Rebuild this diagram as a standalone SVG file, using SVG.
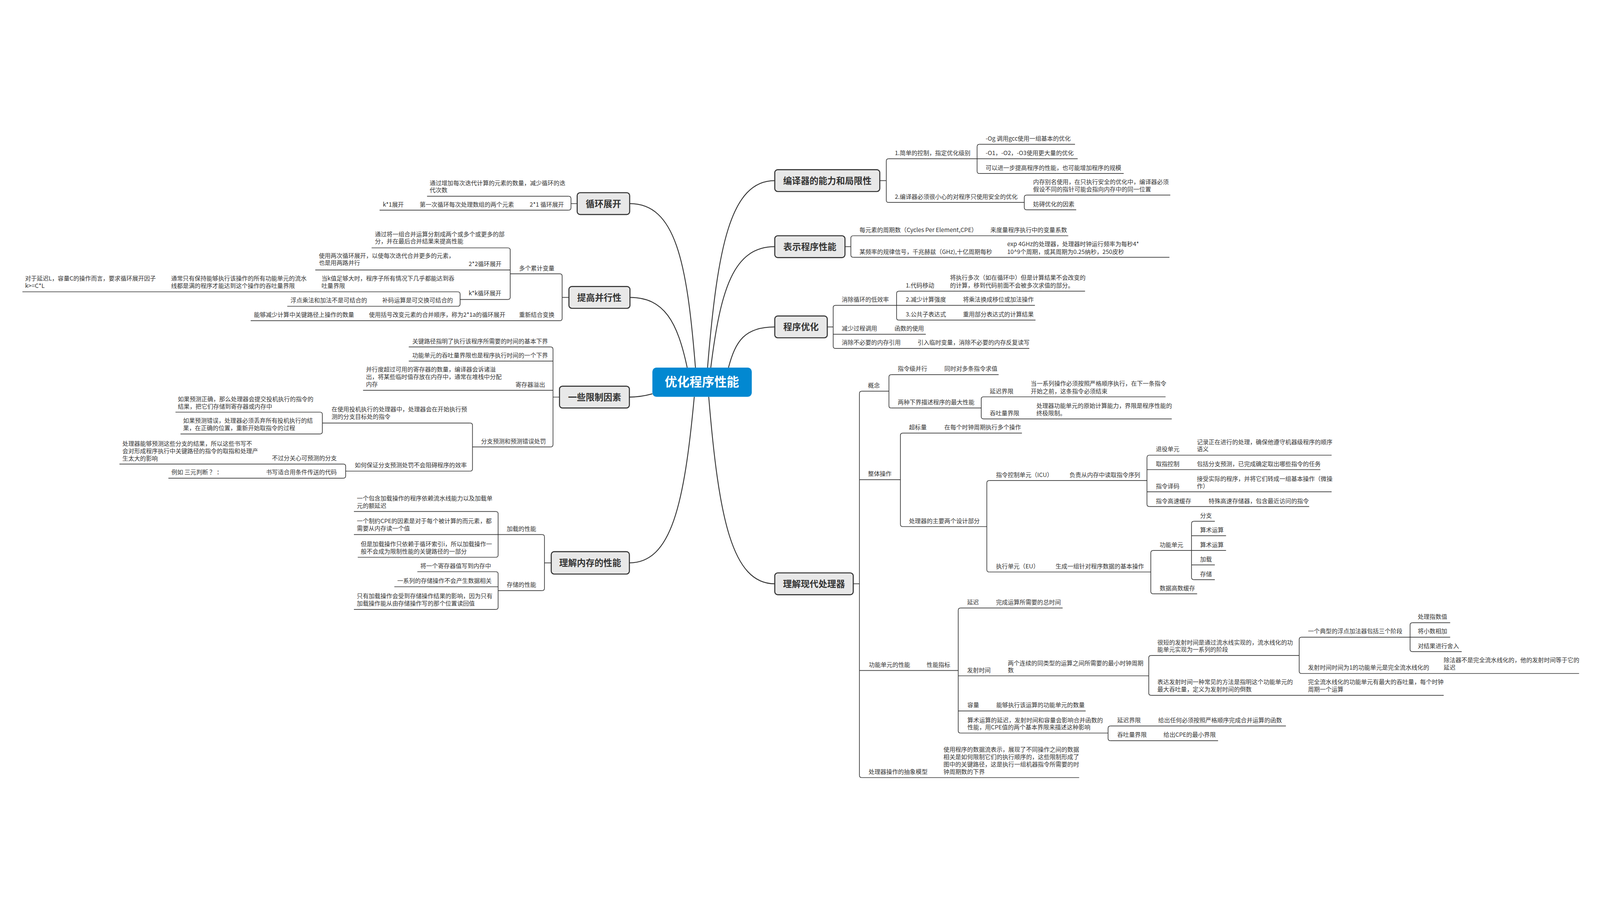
<svg xmlns="http://www.w3.org/2000/svg" width="5425" height="2332" viewBox="0 0 5425 2332">
<style>
svg{width:100vw;height:100vh}
text{font-family:"Noto Sans CJK SC","Noto Sans",sans-serif;fill:#333}
.t{font-size:20px}
.mt{font-size:30px;font-weight:bold;text-anchor:middle}
.ct{font-size:42px;font-weight:bold;text-anchor:middle;fill:#fff}
.box{fill:#e8e8e8;stroke:#333;stroke-width:3.5}
.ln{stroke:#333;stroke-width:2.2;fill:none}
.cc{stroke:#333;stroke-width:3;fill:none}
</style>
<rect width="5425" height="2332" fill="#fff"/>
<g id="connectors">
<path class="cc" d="M2399 868C2433 456 2477 234 2627 234"/>
<path class="cc" d="M2410 868C2443 602 2487 458 2627 458"/>
<path class="cc" d="M2470 868C2494 778 2525 730 2627 730"/>
<path class="cc" d="M2403 967C2437 1379 2482 1601 2627 1601"/>
<path class="cc" d="M2354 967C2320 1333 2276 1530 2134 1530"/>
<path class="cc" d="M2212 957C2190 963 2160 968 2134 968"/>
<path class="cc" d="M2330 868C2297 713 2252 630 2136 630"/>
<path class="cc" d="M2358 868C2329 507 2290 312 2135 312"/>
<path class="ln" d="M2983 234H3005M3013 160Q3005 160 3005 168V300Q3005 308 3013 308"/>
<path class="ln" d="M3321 111Q3313 111 3313 119V202Q3313 210 3321 210"/>
<path class="ln" d="M3481 283Q3473 283 3473 291V325Q3473 333 3481 333"/>
<path class="ln" d="M2865 458H2885M2893 421Q2885 421 2885 429V486Q2885 494 2893 494"/>
<path class="ln" d="M2805 730H2825M2833 657Q2825 657 2825 665V795Q2825 803 2833 803"/>
<path class="ln" d="M3048 609Q3040 609 3040 617V699Q3040 707 3048 707"/>
<path class="ln" d="M2893 1601H2914M2922 948Q2914 948 2914 956V2250Q2914 2258 2922 2258"/>
<path class="ln" d="M3022 892Q3014 892 3014 900V997Q3014 1005 3022 1005"/>
<path class="ln" d="M3335 967Q3327 967 3327 975V1034Q3327 1042 3335 1042"/>
<path class="ln" d="M3061 1090Q3053 1090 3053 1098V1399Q3053 1407 3061 1407"/>
<path class="ln" d="M3354 1251Q3346 1251 3346 1259V1553Q3346 1561 3354 1561"/>
<path class="ln" d="M3897 1165Q3889 1165 3889 1173V1331Q3889 1339 3897 1339"/>
<path class="ln" d="M3910 1488Q3902 1488 3902 1496V1627Q3902 1635 3910 1635"/>
<path class="ln" d="M4048 1389Q4040 1389 4040 1397V1579Q4040 1587 4048 1587"/>
<path class="ln" d="M3257 1683Q3249 1683 3249 1691V2099Q3249 2107 3257 2107"/>
<path class="ln" d="M3903 1844Q3895 1844 3895 1852V1971Q3895 1979 3903 1979"/>
<path class="ln" d="M4413 1782Q4405 1782 4405 1790V1897Q4405 1905 4413 1905"/>
<path class="ln" d="M4789 1733Q4781 1733 4781 1741V1823Q4781 1831 4789 1831"/>
<path class="ln" d="M3765 2083Q3757 2083 3757 2091V2125Q3757 2133 3765 2133"/>
<path class="ln" d="M1957 312H1936M1928 287Q1936 287 1936 295V326Q1936 334 1928 334"/>
<path class="ln" d="M1929 630H1906M1898 550Q1906 550 1906 558V701Q1906 709 1898 709"/>
<path class="ln" d="M1722 462Q1730 462 1730 470V629Q1730 637 1722 637"/>
<path class="ln" d="M1552 611Q1560 611 1560 619V652Q1560 660 1552 660"/>
<path class="ln" d="M1897 968H1875M1867 798Q1875 798 1875 806V1129Q1875 1137 1867 1137"/>
<path class="ln" d="M1594 1056Q1602 1056 1602 1064V1211Q1602 1219 1594 1219"/>
<path class="ln" d="M1085 1019Q1093 1019 1093 1027V1085Q1093 1093 1085 1093"/>
<path class="ln" d="M1164 1195Q1172 1195 1172 1203V1235Q1172 1243 1164 1243"/>
<path class="ln" d="M1869 1530H1846M1838 1434Q1846 1434 1846 1442V1616Q1846 1624 1838 1624"/>
<path class="ln" d="M1681 1356Q1689 1356 1689 1364V1503Q1689 1511 1681 1511"/>
<path class="ln" d="M1681 1560Q1689 1560 1689 1568V1680Q1689 1688 1681 1688"/>
</g>
<g id="root">
<rect x="2212" y="868" width="337" height="99" rx="14" fill="#0288d1"/>
<text class="ct" x="2380" y="932">优化程序性能</text>
</g>
<g id="compiler">
<rect class="box" x="2627" y="197" width="356" height="74" rx="10"/>
<text class="mt" x="2805" y="245">编译器的能力和局限性</text>
<path class="ln" d="M3013 160H3313"/><text class="t" x="3034" y="148">1.简单的控制，指定优化级别</text>
<path class="ln" d="M3321 111H3645"/><text class="t" x="3342" y="99">-Og 调用gcc使用一组基本的优化</text>
<path class="ln" d="M3313 160H3654"/><text class="t" x="3342" y="148">-O1，-O2，-O3使用更大量的优化</text>
<path class="ln" d="M3321 210H3810"/><text class="t" x="3342" y="198">可以进一步提高程序的性能，也可能增加程序的规模</text>
<path class="ln" d="M3013 308H3473"/><text class="t" x="3034" y="296">2.编译器必须很小心的对程序只使用安全的优化</text>
<path class="ln" d="M3481 283H3968"/><text class="t" x="3503" y="246">内存别名使用，在只执行安全的优化中，编译器必须</text><text class="t" x="3503" y="271">假设不同的指针可能会指向内存中的同一位置</text>
<path class="ln" d="M3481 333H3649"/><text class="t" x="3503" y="321">妨碍优化的因素</text>
</g>
<g id="perf-repr">
<rect class="box" x="2627" y="421" width="238" height="74" rx="10"/>
<text class="mt" x="2746" y="469">表示程序性能</text>
<path class="ln" d="M2893 421H3622"/><text class="t" x="2914" y="408">每元素的周期数（Cycles Per Element,CPE）</text><text class="t" x="3358" y="408">来度量程序执行中的变量系数</text>
<path class="ln" d="M2893 494H3965"/><text class="t" x="2914" y="482">某频率的规律信号，千兆赫兹（GHz),十亿周期每秒</text>
<text class="t" x="3415" y="456">exp 4GHz的处理器，处理器时钟运行频率为每秒4*</text><text class="t" x="3415" y="482">10^9个周期，或其周期为0.25纳秒，250皮秒</text>
</g>
<g id="prog-opt">
<rect class="box" x="2627" y="693" width="178" height="74" rx="10"/>
<text class="mt" x="2716" y="741">程序优化</text>
<path class="ln" d="M2833 657H3040"/><text class="t" x="2854" y="644">消除循环的低效率</text>
<path class="ln" d="M3048 609H3679"/><text class="t" x="3071" y="596">1.代码移动</text>
<text class="t" x="3221" y="570">将执行多次（如在循环中）但是计算结果不会改变的</text><text class="t" x="3221" y="596">的计算，移到代码前面不会被多次求值的部分。</text>
<path class="ln" d="M3040 657H3509"/><text class="t" x="3071" y="644">2.减少计算强度</text><text class="t" x="3265" y="644">将乘法换成移位或加法操作</text>
<path class="ln" d="M3048 707H3511"/><text class="t" x="3071" y="694">3.公共子表达式</text><text class="t" x="3265" y="694">重用部分表达式的计算结果</text>
<path class="ln" d="M2825 755H3139"/><text class="t" x="2854" y="742">减少过程调用</text><text class="t" x="3033" y="742">函数的使用</text>
<path class="ln" d="M2833 803H3490"/><text class="t" x="2854" y="790">消除不必要的内存引用</text><text class="t" x="3111" y="790">引入临时变量，消除不必要的内存反复读写</text>
</g>
<g id="processor">
<rect class="box" x="2627" y="1564" width="266" height="74" rx="10"/>
<text class="mt" x="2760" y="1612">理解现代处理器</text>
<path class="ln" d="M2922 948H3014"/><text class="t" x="2943" y="936">概念</text>
<path class="ln" d="M3022 892H3386"/><text class="t" x="3044" y="879">指令级并行</text><text class="t" x="3202" y="879">同时对多条指令求值</text>
<path class="ln" d="M3022 1005H3327"/><text class="t" x="3044" y="992">两种下界描述程序的最大性能</text>
<path class="ln" d="M3335 967H3952"/><text class="t" x="3356" y="955">延迟界限</text><text class="t" x="3495" y="929">当一系列操作必须按照严格顺序执行，在下一条指令</text><text class="t" x="3495" y="955">开始之前，这条指令必须结束</text>
<path class="ln" d="M3335 1042H3973"/><text class="t" x="3356" y="1030">吞吐量界限</text><text class="t" x="3514" y="1004">处理器功能单元的原始计算能力，界限是程序性能的</text><text class="t" x="3514" y="1030">终极限制。</text>
<path class="ln" d="M2914 1248H3053"/><text class="t" x="2943" y="1235">整体操作</text>
<path class="ln" d="M3061 1090H3465"/><text class="t" x="3082" y="1077">超标量</text><text class="t" x="3202" y="1077">在每个时钟周期执行多个操作</text>
<path class="ln" d="M3061 1407H3346"/><text class="t" x="3082" y="1395">处理器的主要两个设计部分</text>
<path class="ln" d="M3354 1251H3889"/><text class="t" x="3377" y="1239">指令控制单元（ICU）</text><text class="t" x="3626" y="1239">负责从内存中读取指令序列</text>
<path class="ln" d="M3897 1165H4515"/><text class="t" x="3919" y="1152">退役单元</text><text class="t" x="4058" y="1127">记录正在进行的处理，确保他遵守机器级程序的顺序</text><text class="t" x="4058" y="1152">语义</text>
<path class="ln" d="M3889 1214H4477"/><text class="t" x="3919" y="1202">取指控制</text><text class="t" x="4058" y="1202">包括分支预测，已完成确定取出哪些指令的任务</text>
<path class="ln" d="M3889 1289H4515"/><text class="t" x="3919" y="1277">指令译码</text><text class="t" x="4058" y="1252">接受实际的程序，并将它们转成一组基本操作（微操</text><text class="t" x="4058" y="1277">作）</text>
<path class="ln" d="M3897 1339H4439"/><text class="t" x="3919" y="1327">指令高速缓存</text><text class="t" x="4098" y="1327">特殊高速存储器，包含最近访问的指令</text>
<path class="ln" d="M3354 1561H3902"/><text class="t" x="3377" y="1549">执行单元（EU）</text><text class="t" x="3579" y="1549">生成一组针对程序数据的基本操作</text>
<path class="ln" d="M3910 1488H4040"/><text class="t" x="3932" y="1476">功能单元</text>
<path class="ln" d="M4048 1389H4119"/><text class="t" x="4069" y="1377">分支</text>
<path class="ln" d="M4040 1438H4157"/><text class="t" x="4069" y="1426">算术运算</text>
<path class="ln" d="M4040 1488H4157"/><text class="t" x="4069" y="1476">算术运算</text>
<path class="ln" d="M4040 1537H4119"/><text class="t" x="4069" y="1525">加载</text>
<path class="ln" d="M4048 1587H4119"/><text class="t" x="4069" y="1575">存储</text>
<path class="ln" d="M3910 1635H4059"/><text class="t" x="3932" y="1623">数据高数缓存</text>
<path class="ln" d="M2914 1895H3249"/><text class="t" x="2946" y="1883">功能单元的性能</text><text class="t" x="3142" y="1883">性能指标</text>
<path class="ln" d="M3257 1683H3603"/><text class="t" x="3279" y="1671">延迟</text><text class="t" x="3377" y="1671">完成运算所需要的总时间</text>
<path class="ln" d="M3249 1913H3895"/><text class="t" x="3279" y="1901">发射时间</text><text class="t" x="3417" y="1877">两个连续的同类型的运算之间所需要的最小时钟周期</text><text class="t" x="3417" y="1901">数</text>
<path class="ln" d="M3903 1844H4405"/><text class="t" x="3924" y="1807">很短的发射时间是通过流水线实现的，流水线化的功</text><text class="t" x="3924" y="1831">能单元实现为一系列的阶段</text>
<path class="ln" d="M4413 1782H4917"/><text class="t" x="4435" y="1769">一个典型的浮点加法器包括三个阶段</text>
<path class="ln" d="M4789 1733H4917"/><text class="t" x="4807" y="1720">处理指数值</text>
<text class="t" x="4807" y="1769">将小数相加</text>
<path class="ln" d="M4789 1831H4956"/><text class="t" x="4807" y="1819">对结果进行舍入</text>
<path class="ln" d="M4413 1905H5354"/><text class="t" x="4435" y="1892">发射时间时间为1的功能单元是完全流水线化的</text><text class="t" x="4895" y="1866">除法器不是完全流水线化的，他的发射时间等于它的</text><text class="t" x="4895" y="1892">延迟</text>
<path class="ln" d="M3903 1979H4895"/><text class="t" x="3924" y="1941">表达发射时间一种常见的方法是指明这个功能单元的</text><text class="t" x="3924" y="1966">最大吞吐量，定义为发射时间的倒数</text><text class="t" x="4435" y="1941">完全流水线化的功能单元有最大的吞吐量，每个时钟</text><text class="t" x="4435" y="1966">周期一个运算</text>
<path class="ln" d="M3249 2032H3681"/><text class="t" x="3280" y="2019">容量</text><text class="t" x="3378" y="2019">能够执行该运算的功能单元的数量</text>
<path class="ln" d="M3257 2107H3757"/><text class="t" x="3280" y="2070">算术运算的延迟，发射时间和容量会影响合并函数的</text><text class="t" x="3280" y="2094">性能，用CPE值的两个基本界限来描述这种影响</text>
<path class="ln" d="M3765 2083H4360"/><text class="t" x="3788" y="2071">延迟界限</text><text class="t" x="3927" y="2071">给出任何必须按照严格顺序完成合并运算的函数</text>
<path class="ln" d="M3765 2133H4130"/><text class="t" x="3788" y="2120">吞吐量界限</text><text class="t" x="3945" y="2120">给出CPE的最小界限</text>
<path class="ln" d="M2922 2258H3659"/><text class="t" x="2945" y="2245">处理器操作的抽象模型</text>
<text class="t" x="3199" y="2170">使用程序的数据流表示，展现了不同操作之间的数据</text><text class="t" x="3199" y="2195">相关是如何限制它们的执行顺序的，这些限制形成了</text><text class="t" x="3199" y="2220">图中的关键路径，这是执行一组机器指令所需要的时</text><text class="t" x="3199" y="2245">钟周期数的下界</text>
</g>
<g id="unroll">
<rect class="box" x="1957" y="275" width="178" height="74" rx="10"/>
<text class="mt" x="2046" y="323">循环展开</text>
<path class="ln" d="M1448 287H1928"/><text class="t" x="1457" y="249">通过增加每次迭代计算的元素的数量，减少循环的迭</text><text class="t" x="1457" y="273">代次数</text>
<path class="ln" d="M1287 334H1928"/><text class="t" x="1796" y="322">2*1 循环展开</text><text class="t" x="1423" y="322">第一次循环每次处理数组的两个元素</text><text class="t" x="1298" y="322">k*1展开</text>
</g>
<g id="parallel">
<rect class="box" x="1929" y="593" width="207" height="74" rx="10"/>
<text class="mt" x="2032" y="641">提高并行性</text>
<path class="ln" d="M1730 550H1898"/><text class="t" x="1760" y="538">多个累计变量</text>
<path class="ln" d="M1260 462H1722"/><text class="t" x="1271" y="423">通过将一组合并运算分割成两个或多个或更多的部</text><text class="t" x="1271" y="447">分，并在最后合并结果来提高性能</text>
<path class="ln" d="M1069 537H1730"/><text class="t" x="1589" y="524">2*2循环展开</text><text class="t" x="1081" y="496">使用两次循环展开，以使每次迭代合并更多的元素，</text><text class="t" x="1081" y="520">也是用两路并行</text>
<path class="ln" d="M1560 637H1722"/><text class="t" x="1589" y="623">k*k循环展开</text>
<path class="ln" d="M76 611H1552"/><text class="t" x="1090" y="573">当k值足够大时，程序子所有情况下几乎都能达到吞</text><text class="t" x="1090" y="598">吐量界限</text>
<text class="t" x="580" y="573">通常只有保持能够执行该操作的所有功能单元的流水</text><text class="t" x="580" y="598">线都是满的程序才能达到这个操作的吞吐量界限</text>
<text class="t" x="85" y="573">对于延迟L，容量C的操作而言，要求循环展开因子</text><text class="t" x="85" y="598">k&gt;=C*L</text>
<path class="ln" d="M974 660H1552"/><text class="t" x="1296" y="647">补码运算是可交换可结合的</text><text class="t" x="985" y="647">浮点乘法和加法不是可结合的</text>
<path class="ln" d="M850 709H1898"/><text class="t" x="1760" y="696">重新结合变换</text><text class="t" x="1251" y="696">使用括号改变元素的合并顺序，称为2*1a的循环展开</text><text class="t" x="861" y="696">能够减少计算中关键路径上操作的数量</text>
</g>
<g id="limits">
<rect class="box" x="1897" y="931" width="237" height="74" rx="10"/>
<text class="mt" x="2016" y="979">一些限制因素</text>
<path class="ln" d="M1386 798H1867"/><text class="t" x="1398" y="786">关键路径指明了执行该程序所需要的时间的基本下界</text>
<path class="ln" d="M1386 846H1875"/><text class="t" x="1398" y="834">功能单元的吞吐量界限也是程序执行时间的一个下界</text>
<path class="ln" d="M1231 945H1875"/><text class="t" x="1748" y="933">寄存器溢出</text><text class="t" x="1241" y="881">并行度超过可用的寄存器的数量，编译器会诉诸溢</text><text class="t" x="1241" y="906">出，将某些临时值存放在内存中，通常在堆栈中分配</text><text class="t" x="1241" y="931">内存</text>
<path class="ln" d="M1602 1137H1867"/><text class="t" x="1631" y="1125">分支预测和预测错误处罚</text>
<path class="ln" d="M1093 1056H1594"/><text class="t" x="1124" y="1017">在使用投机执行的处理器中，处理器会在开始执行预</text><text class="t" x="1124" y="1042">测的分支目标处的指令</text>
<path class="ln" d="M595 1019H1085"/><text class="t" x="603" y="982">如果预测正确，那么处理器会提交投机执行的指令的</text><text class="t" x="603" y="1007">结果，把它们存储到寄存器或内存中</text>
<path class="ln" d="M612 1093H1085"/><text class="t" x="621" y="1055">如果预测错误，处理器必须丢弃所有投机执行的结</text><text class="t" x="621" y="1080">果，在正确的位置，重新开始取指令的过程</text>
<path class="ln" d="M1172 1219H1594"/><text class="t" x="1203" y="1206">如何保证分支预测处罚不会阻碍程序的效率</text>
<path class="ln" d="M405 1195H1164"/><text class="t" x="922" y="1182">不过分关心可预测的分支</text><text class="t" x="415" y="1133">处理器能够预测这些分支的结果，所以这些书写不</text><text class="t" x="415" y="1158">会对形成程序执行中关键路径的指令的取指和处理产</text><text class="t" x="415" y="1183">生太大的影响</text>
<path class="ln" d="M571 1243H1164"/><text class="t" x="902" y="1230">书写适合用条件传送的代码</text><text class="t" x="581" y="1230">例如 三元判断 ？ ：</text>
</g>
<g id="memory">
<rect class="box" x="1869" y="1492" width="265" height="76" rx="10"/>
<text class="mt" x="2001" y="1541">理解内存的性能</text>
<path class="ln" d="M1689 1434H1838"/><text class="t" x="1718" y="1421">加载的性能</text>
<path class="ln" d="M1200 1356H1681"/><text class="t" x="1210" y="1318">一个包含加载操作的程序依赖流水线能力以及加载单</text><text class="t" x="1210" y="1343">元的额延迟</text>
<path class="ln" d="M1200 1434H1689"/><text class="t" x="1210" y="1395">一个制约CPE的因素是对于每个被计算的而元素，都</text><text class="t" x="1210" y="1420">需要从内存读一个值</text>
<path class="ln" d="M1213 1511H1681"/><text class="t" x="1223" y="1473">但是加载操作只依赖于循环索引i，所以加载操作一</text><text class="t" x="1223" y="1498">般不会成为限制性能的关键路径的一部分</text>
<path class="ln" d="M1689 1624H1838"/><text class="t" x="1718" y="1611">存储的性能</text>
<path class="ln" d="M1415 1560H1681"/><text class="t" x="1425" y="1547">将一个寄存器值写到内存中</text>
<path class="ln" d="M1337 1611H1689"/><text class="t" x="1347" y="1598">一系列的存储操作不会产生数据相关</text>
<path class="ln" d="M1200 1688H1681"/><text class="t" x="1210" y="1650">只有加载操作会受到存储操作结果的影响，因为只有</text><text class="t" x="1210" y="1675">加载操作能从由存储操作写的那个位置读回值</text>
</g>
</svg>
